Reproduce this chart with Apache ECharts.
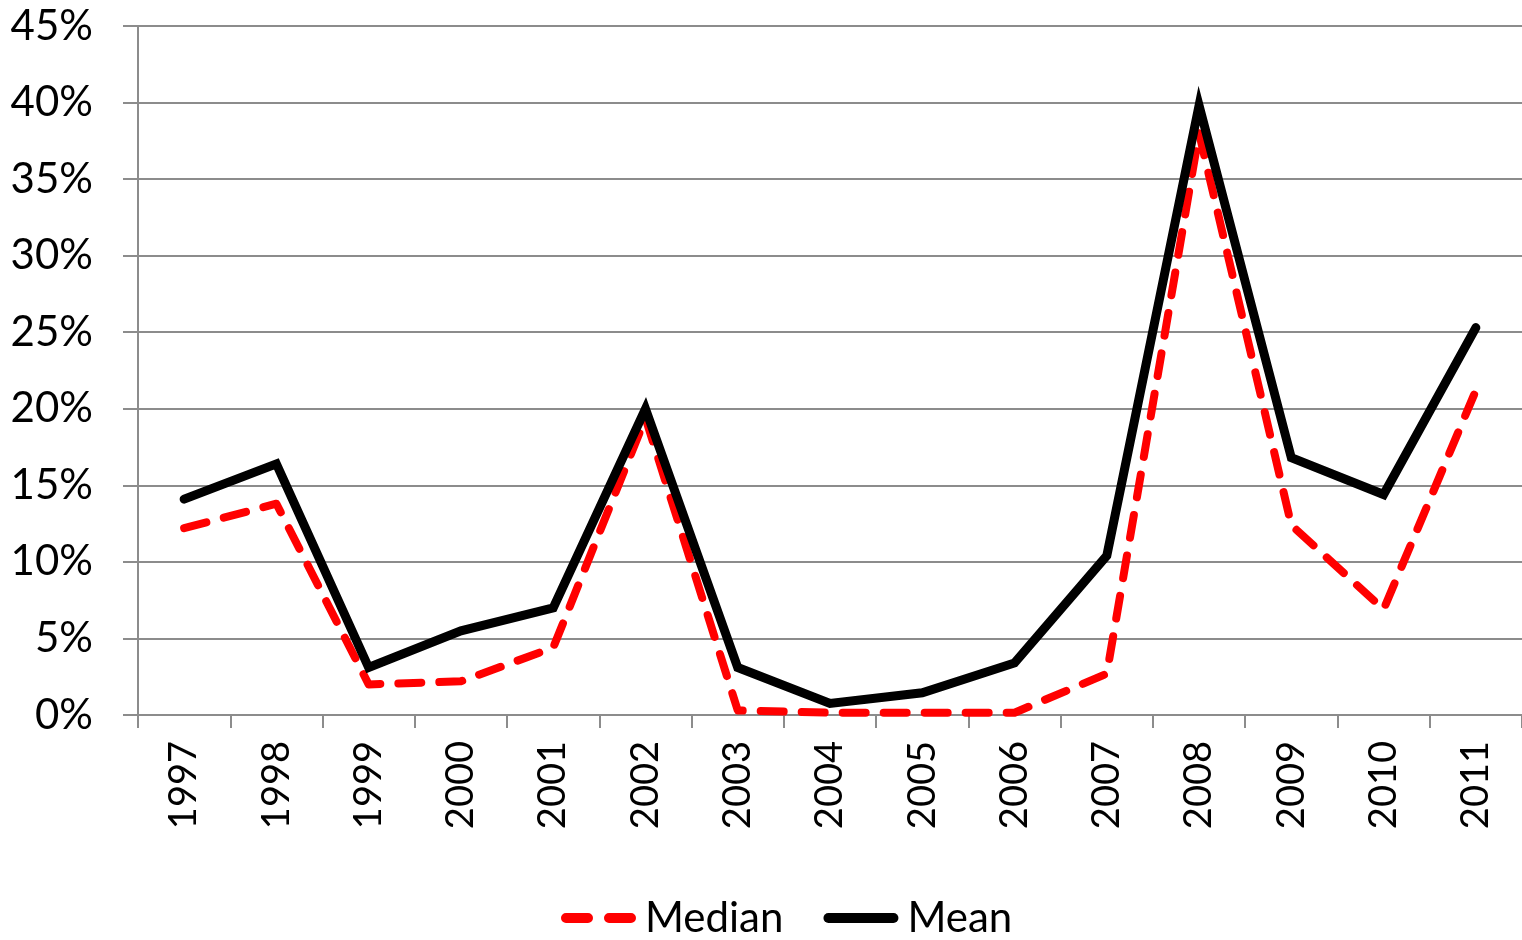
<!DOCTYPE html>
<html>
<head>
<meta charset="utf-8">
<script src="https://cdn.jsdelivr.net/npm/echarts@6/dist/echarts.min.js"></script>
<style>
  html, body { margin: 0; padding: 0; background: #fff; }
  #chart { width: 1522px; height: 940px; }
</style>
</head>
<body>
<div id="chart"></div>
<script>
// Years on the category axis
const years = ['1997','1998','1999','2000','2001','2002','2003','2004','2005','2006','2007','2008','2009','2010','2011'];
// Annual median and mean, as fractions
const medianValues = [0.122, 0.138, 0.020, 0.022, 0.044, 0.194, 0.003, 0.0015, 0.0015, 0.0015, 0.027, 0.380, 0.124, 0.069, 0.212];
const meanValues   = [0.141, 0.164, 0.031, 0.055, 0.070, 0.200, 0.031, 0.0075, 0.0145, 0.034, 0.104, 0.398, 0.168, 0.144, 0.253];
// Value axis range and step
const yMin = 0, yMax = 0.45, yStep = 0.05;

const FONT = 'Lato, "Open Sans", sans-serif';
const GRID_GRAY = '#8c8c8c';
const RED = '#ff0000';

// Legend keys: two rounded dashes for the median, one rounded bar for the mean
const DASHED_KEY = 'path://M5,0 H27 A5,5 0 0 1 27,10 H5 A5,5 0 0 1 5,0 Z M48,0 H70 A5,5 0 0 1 70,10 H48 A5,5 0 0 1 48,0 Z';
const SOLID_KEY = 'path://M5,0 H70 A5,5 0 0 1 70,10 H5 A5,5 0 0 1 5,0 Z';

const chart = echarts.init(document.getElementById('chart'), null, { renderer: 'canvas' });
chart.setOption({
  animation: false,
  backgroundColor: '#fff',
  textStyle: { fontFamily: FONT },
  grid: { left: 138, right: 0, top: 26, bottom: 225, containLabel: false },
  legend: {
    bottom: -4,
    left: 556,
    itemWidth: 75,
    itemHeight: 10,
    itemGap: 40,
    textStyle: { fontFamily: FONT, fontSize: 42, color: '#000', padding: [0, 0, 0, 4] },
    data: [
      { name: 'Median', icon: DASHED_KEY, itemStyle: { color: RED } },
      { name: 'Mean', icon: SOLID_KEY, itemStyle: { color: '#000' } }
    ]
  },
  xAxis: {
    type: 'category',
    data: years,
    boundaryGap: true,
    axisLine: { show: true, lineStyle: { color: GRID_GRAY, width: 2 } },
    axisTick: { show: true, length: 13, lineStyle: { color: GRID_GRAY, width: 2 } },
    axisLabel: { rotate: 90, fontSize: 38, color: '#000', fontFamily: FONT, margin: 26 },
    splitLine: { show: false }
  },
  yAxis: {
    type: 'value',
    min: yMin,
    max: yMax,
    interval: yStep,
    axisLine: { show: true, lineStyle: { color: GRID_GRAY, width: 2 } },
    axisTick: { show: true, length: 15, lineStyle: { color: GRID_GRAY, width: 2 } },
    axisLabel: {
      fontSize: 42, color: '#000', fontFamily: FONT, margin: 45,
      formatter: v => Math.round(v * 100) + '%'
    },
    splitLine: { show: true, lineStyle: { color: GRID_GRAY, width: 2 } }
  },
  series: [
    {
      name: 'Median',
      type: 'line',
      data: medianValues,
      symbol: 'none',
      z: 2,
      lineStyle: { color: RED, width: 8, type: [23, 18], cap: 'round', join: 'round' },
      itemStyle: { color: RED }
    },
    {
      name: 'Mean',
      type: 'line',
      data: meanValues,
      symbol: 'none',
      z: 3,
      lineStyle: { color: '#000', width: 9, type: 'solid', cap: 'round', join: 'miter' },
      itemStyle: { color: '#000' }
    }
  ]
});
</script>
</body>
</html>
